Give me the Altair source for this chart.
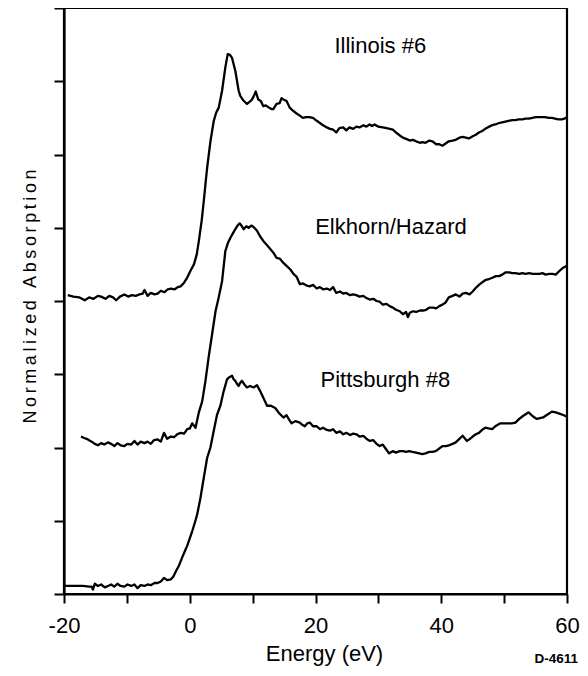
import altair as alt
import pandas as pd

FONT = "Liberation Sans"

# ---- data (energy in eV, normalized absorption in tick units) ----
illinois_e = [-19.4, -18.5, -17.6, -16.7, -16.0, -15.3, -14.6, -14.1, -13.4, -12.8, -12.2, -11.7, -11.1,
              -10.4, -9.8, -9.2, -8.6, -8.0, -7.5, -7.2, -6.7, -6.2, -5.6, -5.1, -4.6, -4.0, -3.5, -3.0,
              -2.4, -1.9, -1.45, -0.9, -0.4, 0.1, 0.66, 1.1, 1.45, 1.9, 2.24, 2.5, 2.77, 3.29, 3.82, 4.2,
              4.61, 5.14, 5.66, 6.04, 6.4, 6.72, 7.25, 7.78, 8.04, 8.5, 9.1, 9.5, 9.9, 10.2, 10.5, 10.9,
              11.3, 11.7, 12.1, 12.6, 13.0, 13.3, 13.8, 14.3, 14.6, 14.9, 15.4, 15.9, 16.4, 17.0, 17.5,
              18.0, 18.5, 19.0, 19.6, 20.2, 20.7, 21.2, 21.8, 22.3, 22.8, 23.3, 23.8, 24.4, 24.9, 25.4,
              26.0, 26.5, 27.0, 27.6, 28.1, 28.6, 29.0, 29.4, 30.0, 30.7, 31.3, 31.8, 32.3, 32.8, 33.4,
              33.9, 34.5, 35.0, 35.5, 36.0, 36.6, 37.0, 37.5, 38.1, 38.6, 39.2, 39.7, 40.2, 40.7, 41.2,
              41.8, 42.3, 42.9, 43.4, 43.9, 44.4, 45.0, 45.5, 46.0, 46.5, 47.0, 47.6, 48.1, 48.6, 49.2,
              49.7, 50.2, 50.7, 51.3, 51.8, 52.3, 52.9, 53.4, 53.9, 54.5, 55.0, 55.5, 56.0, 56.5, 57.1,
              57.6, 58.1, 58.6, 59.2, 59.6, 60.0]
illinois_v = [4.08, 4.06, 4.05, 4.01, 4.05, 4.03, 4.07, 4.06, 4.03, 4.07, 4.05, 4.01, 4.06,
              4.09, 4.06, 4.08, 4.07, 4.09, 4.10, 4.15, 4.07, 4.11, 4.09, 4.10, 4.14, 4.12, 4.16, 4.17,
              4.16, 4.19, 4.20, 4.25, 4.32, 4.41, 4.50, 4.63, 4.82, 5.10, 5.37, 5.60, 5.82, 6.18, 6.46, 6.57,
              6.64, 6.87, 7.19, 7.37, 7.36, 7.32, 7.14, 6.87, 6.80, 6.74, 6.69, 6.72, 6.75, 6.80, 6.86, 6.75,
              6.73, 6.66, 6.67, 6.64, 6.62, 6.62, 6.69, 6.70, 6.77, 6.75, 6.73, 6.64, 6.60, 6.56, 6.53,
              6.50, 6.51, 6.51, 6.50, 6.46, 6.43, 6.40, 6.37, 6.35, 6.34, 6.30, 6.36, 6.37, 6.33, 6.37,
              6.35, 6.38, 6.37, 6.40, 6.38, 6.41, 6.39, 6.41, 6.38, 6.37, 6.36, 6.35, 6.34, 6.30, 6.26,
              6.23, 6.21, 6.19, 6.20, 6.18, 6.16, 6.17, 6.16, 6.19, 6.18, 6.14, 6.14, 6.12, 6.15, 6.18,
              6.19, 6.20, 6.23, 6.24, 6.23, 6.22, 6.25, 6.27, 6.30, 6.32, 6.35, 6.38, 6.40, 6.41, 6.43,
              6.44, 6.45, 6.46, 6.47, 6.47, 6.48, 6.48, 6.49, 6.49, 6.50, 6.51, 6.51, 6.51, 6.51, 6.50,
              6.50, 6.49, 6.48, 6.48, 6.49, 6.51]

elkhorn_e = [-17.3, -16.8, -16.2, -15.6, -15.1, -14.6, -14.1, -13.6, -13.0, -12.5, -12.0, -11.5, -11.0,
             -10.4, -9.9, -9.3, -8.8, -8.3, -7.8, -7.2, -6.7, -6.2, -5.7, -5.1, -4.6, -4.1, -3.6, -3.0,
             -2.5, -2.0, -1.45, -0.9, -0.4, 0.0, 0.4, 0.92, 1.45, 1.98, 2.5, 3.0, 3.56, 4.1, 4.61, 5.14,
             5.66, 6.1, 6.45, 6.9, 7.25, 7.6, 7.94, 8.3, 8.57, 9.0, 9.36, 9.8, 10.15, 10.7, 11.2, 11.7,
             12.3, 12.8, 13.3, 13.8, 14.3, 14.9, 15.4, 16.0, 16.5, 17.0, 17.5, 18.0, 18.6, 19.1, 19.6,
             20.2, 20.7, 21.2, 21.8, 22.3, 22.8, 23.3, 23.9, 24.4, 24.9, 25.5, 26.0, 26.5, 27.0, 27.6,
             28.1, 28.6, 29.2, 29.7, 30.2, 30.7, 31.3, 31.8, 32.3, 32.8, 33.4, 33.9, 34.4, 34.7, 35.0,
             35.5, 36.0, 36.6, 37.1, 37.6, 38.1, 38.7, 39.2, 39.7, 40.2, 40.7, 41.2, 41.8, 42.3, 42.9,
             43.4, 43.9, 44.5, 45.0, 45.5, 46.0, 46.6, 47.1, 47.6, 48.2, 48.7, 49.2, 49.7, 50.2, 50.8,
             51.3, 51.8, 52.4, 52.9, 53.4, 54.0, 54.5, 55.0, 55.6, 56.1, 56.6, 57.2, 57.7, 58.2, 58.8,
             59.3, 60.0]
elkhorn_v = [2.15, 2.13, 2.11, 2.08, 2.05, 2.03, 2.06, 2.04, 2.07, 2.05, 2.02, 2.06, 2.03,
             2.02, 2.05, 2.04, 2.09, 2.04, 2.08, 2.06, 2.08, 2.05, 2.10, 2.11, 2.08, 2.20, 2.12, 2.15,
             2.14, 2.18, 2.20, 2.19, 2.25, 2.26, 2.33, 2.27, 2.48, 2.63, 2.91, 3.23, 3.55, 3.86, 4.05, 4.27,
             4.68, 4.80, 4.86, 4.93, 4.98, 5.03, 5.06, 5.02, 4.98, 5.02, 5.00, 5.03, 5.01, 4.96, 4.88, 4.82,
             4.76, 4.71, 4.66, 4.59, 4.58, 4.52, 4.48, 4.43, 4.37, 4.33, 4.23, 4.24, 4.21, 4.20, 4.22,
             4.17, 4.19, 4.16, 4.17, 4.15, 4.19, 4.11, 4.13, 4.10, 4.11, 4.08, 4.09, 4.08, 4.06, 4.07,
             4.04, 4.02, 4.03, 4.00, 3.99, 3.95, 3.96, 3.93, 3.91, 3.88, 3.86, 3.82, 3.85, 3.78, 3.84,
             3.86, 3.85, 3.87, 3.87, 3.88, 3.91, 3.91, 3.90, 3.93, 3.95, 3.98, 4.05, 4.07, 4.09, 4.06,
             4.10, 4.11, 4.09, 4.13, 4.18, 4.22, 4.26, 4.29, 4.30, 4.32, 4.34, 4.34, 4.36, 4.39, 4.39,
             4.38, 4.38, 4.37, 4.38, 4.37, 4.38, 4.37, 4.37, 4.37, 4.38, 4.36, 4.37, 4.37, 4.36, 4.41,
             4.45, 4.48]

pittsburgh_e = [-20.0, -19.0, -18.0, -17.0, -16.0, -15.6, -15.4, -15.1, -14.6, -14.1, -13.5, -13.0, -12.5,
                -12.0, -11.5, -11.0, -10.4, -9.9, -9.3, -8.8, -8.3, -7.8, -7.2, -6.7, -6.2, -5.6, -5.1,
                -4.6, -4.1, -3.6, -3.0, -2.6, -2.2, -1.7, -1.2, -0.8, -0.4, 0.0, 0.4, 0.8, 1.19, 1.7, 2.24,
                2.77, 3.29, 3.82, 4.35, 4.87, 5.4, 5.93, 6.3, 6.72, 7.0, 7.25, 7.5, 7.78, 8.0, 8.3, 8.7,
                9.1, 9.6, 10.15, 10.7, 11.2, 11.7, 12.3, 12.9, 13.6, 14.2, 14.9, 15.4, 15.8, 16.2, 16.8,
                17.5, 17.9, 18.3, 18.7, 19.1, 19.6, 20.2, 20.7, 21.2, 21.8, 22.3, 22.8, 23.3, 23.9, 24.4,
                24.9, 25.5, 26.0, 26.5, 27.0, 27.6, 28.1, 28.6, 29.2, 29.7, 30.2, 30.7, 31.2, 31.7, 32.3,
                32.8, 33.4, 33.9, 34.4, 34.9, 35.4, 36.0, 36.5, 37.0, 37.5, 38.1, 38.6, 39.1, 39.6, 40.2,
                40.7, 41.2, 41.8, 42.3, 42.8, 43.4, 44.1, 44.6, 45.0, 45.5, 46.0, 46.5, 47.0, 47.5, 48.1,
                48.6, 49.4, 50.0, 50.6, 51.2, 51.8, 52.4, 53.0, 53.9, 54.5, 55.2, 55.7, 56.2, 56.9, 57.6,
                58.2, 58.9, 59.5, 60.0]
pittsburgh_v = [0.11, 0.11, 0.11, 0.11, 0.10, 0.10, 0.06, 0.14, 0.11, 0.13, 0.09, 0.11, 0.13,
                0.10, 0.14, 0.11, 0.10, 0.13, 0.11, 0.13, 0.08, 0.12, 0.11, 0.13, 0.12, 0.15, 0.15,
                0.17, 0.22, 0.19, 0.20, 0.24, 0.31, 0.39, 0.50, 0.58, 0.66, 0.76, 0.86, 0.97, 1.09, 1.31, 1.59,
                1.86, 2.00, 2.23, 2.45, 2.57, 2.77, 2.93, 2.96, 2.98, 2.93, 2.91, 2.87, 2.84, 2.88, 2.91, 2.86,
                2.82, 2.84, 2.82, 2.85, 2.77, 2.68, 2.57, 2.57, 2.54, 2.47, 2.41, 2.44, 2.38, 2.33, 2.36,
                2.34, 2.31, 2.29, 2.33, 2.34, 2.29, 2.29, 2.25, 2.27, 2.24, 2.23, 2.25, 2.20, 2.22, 2.18,
                2.20, 2.17, 2.19, 2.18, 2.15, 2.16, 2.12, 2.09, 2.10, 2.05, 2.02, 2.04, 1.98, 1.92, 1.95,
                1.93, 1.95, 1.95, 1.94, 1.95, 1.94, 1.93, 1.92, 1.91, 1.92, 1.94, 1.94, 1.95, 1.98, 2.02,
                2.02, 2.03, 2.05, 2.07, 2.11, 2.16, 2.09, 2.12, 2.15, 2.18, 2.20, 2.24, 2.27, 2.26, 2.25,
                2.29, 2.33, 2.33, 2.33, 2.33, 2.34, 2.39, 2.43, 2.48, 2.43, 2.39, 2.40, 2.41, 2.45, 2.49,
                2.48, 2.46, 2.44, 2.42]

label_names = ["Illinois #6", "Elkhorn/Hazard", "Pittsburgh #8"]
label_e = [30.3, 32.0, 31.1]
label_v = [7.38, 4.92, 2.82]

x_ticks = [-20, -10, 0, 10, 20, 30, 40, 50, 60]
y_ticks = [0, 1, 2, 3, 4, 5, 6, 7, 8]
x_title = "Energy (eV)"
y_title = "Normalized Absorption"
caption = ["D-4611"]

# ---- build tables ----
rows = []
for name, es, vs in [("Illinois #6", illinois_e, illinois_v),
                     ("Elkhorn/Hazard", elkhorn_e, elkhorn_v),
                     ("Pittsburgh #8", pittsburgh_e, pittsburgh_v)]:
    for e, v in zip(es, vs):
        rows.append({"series": name, "energy": e, "absorption": v})
df = pd.DataFrame(rows)
labels_df = pd.DataFrame({"name": label_names, "energy": label_e, "absorption": label_v})
caption_df = pd.DataFrame({"t": caption})

x_scale = alt.Scale(domain=[-20, 60], nice=False, zero=False)
y_scale = alt.Scale(domain=[0, 8], nice=False, zero=False)

spaced_y_title = "\u2009".join(y_title)

lines = alt.Chart(df).mark_line(color="black", strokeWidth=2.3, strokeJoin="round").encode(
    x=alt.X("energy:Q", scale=x_scale,
            axis=alt.Axis(values=x_ticks,
                          labelExpr="datum.value % 20 == 0 ? '' + datum.value : ''",
                          labelFont=FONT, labelFontSize=22, labelColor="black",
                          labelPadding=12, labelFlush=False, labelOverlap=False,
                          tickSize=9, tickWidth=2, tickColor="black",
                          domainColor="black", domainWidth=2.2, grid=False,
                          title=x_title, titleFont=FONT, titleFontSize=22,
                          titleFontWeight="normal", titleColor="black",
                          titleX=260, titleY=66, titleBaseline="alphabetic",
                          titleAlign="center")),
    y=alt.Y("absorption:Q", scale=y_scale,
            axis=alt.Axis(values=y_ticks, labels=False,
                          tickSize=10, tickWidth=2, tickColor="black",
                          domainColor="black", domainWidth=2.2, grid=False,
                          title=spaced_y_title, titleFont=FONT, titleFontSize=18,
                          titleFontWeight="normal", titleColor="black",
                          titleX=-29, titleY=288, titleAngle=270,
                          titleBaseline="alphabetic", titleAlign="center")),
    detail="series:N",
)

texts = alt.Chart(labels_df).mark_text(
    font=FONT, fontSize=22, color="black", align="center", baseline="alphabetic"
).encode(
    x=alt.X("energy:Q", scale=x_scale),
    y=alt.Y("absorption:Q", scale=y_scale),
    text="name:N",
)

cap = alt.Chart(caption_df).mark_text(
    font=FONT, fontSize=13.5, fontWeight="bold", color="black", align="right", baseline="alphabetic"
).encode(
    x=alt.value(514),
    y=alt.value(655),
    text="t:N",
)

chart = alt.layer(lines, texts, cap).properties(
    width=503, height=586,
    autosize=alt.AutoSizeParams(type="none"),
    padding={"left": 56, "top": 0, "right": 13, "bottom": 74},
    background="white",
).configure_view(stroke="black", strokeWidth=2.2)

chart.save("out.html", embed_options={"renderer": "svg", "actions": False})
